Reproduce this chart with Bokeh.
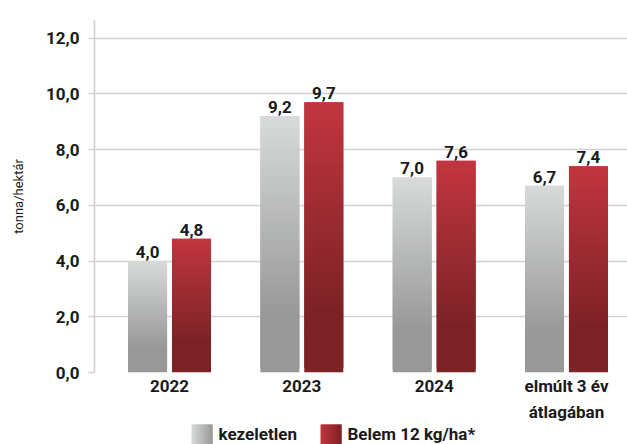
from bokeh.plotting import figure
from bokeh.layouts import column
from bokeh.models import ColumnDataSource, FixedTicker
from bokeh.embed import file_html
from bokeh.resources import INLINE
from bokeh.core.properties import value

# ---- data ----
categories = ["2022", "2023", "2024", "elmúlt 3 év\nátlagában"]
kezeletlen = [4.0, 9.2, 7.0, 6.7]
belem = [4.8, 9.7, 7.6, 7.4]
series_names = ["kezeletlen", "Belem 12 kg/ha*"]
y_ticks = [0, 2, 4, 6, 8, 10, 12]

FONT = "Roboto"
TXT = "#1a1a1a"
WEIGHT = "bold"

# gradient end colours (light, dark)
gray_top, gray_bot = (0xD8, 0xDA, 0xDA), (0x98, 0x98, 0x98)
red_top, red_bot = (0xC2, 0x35, 0x40), (0x7C, 0x22, 0x25)
N = 60


def lerp(c1, c2, t):
    return "#%02x%02x%02x" % tuple(int(round(a + (b - a) * t)) for a, b in zip(c1, c2))


def gradient_source(vals, offset, width, ctop, cbot, n=N):
    left, right, bottom, top, color = [], [], [], [], []
    for i, v in enumerate(vals):
        for k in range(n):
            b = v * k / n
            t = min(v, v * (k + 2) / n)
            frac_from_top = 1 - (k + 0.5) / n
            tt = min(frac_from_top / 0.78, 1.0)
            left.append(i + offset - width / 2)
            right.append(i + offset + width / 2)
            bottom.append(b)
            top.append(t)
            color.append(lerp(ctop, cbot, tt))
    return ColumnDataSource(dict(left=left, right=right, bottom=bottom, top=top, color=color))


W, H = 627, 444
LEFT = 94
p = figure(width=W, height=H, output_backend="svg", toolbar_location=None,
           x_range=(-0.567, 3.461), y_range=(0, 12.63),
           min_border_left=LEFT, min_border_right=0, min_border_top=20, min_border_bottom=72)
p.outline_line_color = None
p.background_fill_color = "white"

off = 0.166
bw = 0.295
src_g = gradient_source(kezeletlen, -off, bw, gray_top, gray_bot)
src_r = gradient_source(belem, off, bw, red_top, red_bot)
p.quad(left="left", right="right", bottom="bottom", top="top", source=src_g,
       fill_color="color", line_color=None)
p.quad(left="left", right="right", bottom="bottom", top="top", source=src_r,
       fill_color="color", line_color=None)

# value labels
lab = ColumnDataSource(dict(
    x=[i - off for i in range(len(kezeletlen))] + [i + off for i in range(len(belem))],
    y=kezeletlen + belem,
    t=[("%.1f" % v).replace(".", ",") for v in kezeletlen + belem],
))
p.text(x="x", y="y", text="t", source=lab, text_align="center", text_baseline="bottom",
       y_offset=-3, text_font=value(FONT), text_font_size="17px", text_font_style=WEIGHT,
       text_color=TXT)

# grid
p.xgrid.grid_line_color = None
p.ygrid.ticker = FixedTicker(ticks=y_ticks)
p.ygrid.grid_line_color = "#d0d0d0"
p.ygrid.grid_line_width = 1.6

# y axis
ya = p.yaxis[0]
ya.ticker = FixedTicker(ticks=y_ticks)
ya.major_label_overrides = {t: ("%.1f" % t).replace(".", ",") for t in y_ticks}
ya.axis_line_color = "#d0d0d0"
ya.axis_line_width = 1.6
ya.major_tick_line_color = "#d0d0d0"
ya.major_tick_line_width = 1.6
ya.major_tick_out = 6
ya.major_tick_in = 0
ya.minor_tick_line_color = None
ya.major_label_standoff = 9
ya.major_label_text_font = FONT
ya.major_label_text_font_size = "17px"
ya.major_label_text_font_style = WEIGHT
ya.major_label_text_color = TXT
ya.axis_label = "tonna/hektár"
ya.axis_label_text_font = FONT
ya.axis_label_text_font_size = "13px"
ya.axis_label_text_font_style = "normal"
ya.axis_label_text_color = TXT
ya.axis_label_standoff = 17

# x axis
xa = p.xaxis[0]
xa.ticker = FixedTicker(ticks=list(range(len(categories))))
xa.major_label_overrides = {i: c for i, c in enumerate(categories)}
xa.axis_line_color = None
xa.major_tick_line_color = None
xa.minor_tick_line_color = None
xa.major_label_standoff = -3
xa.major_label_text_font = FONT
xa.major_label_text_font_size = "17px"
xa.major_label_text_font_style = WEIGHT
xa.major_label_text_line_height = 1.3
xa.major_label_text_color = TXT

# ---- legend strip, overlaid on the bottom of the chart (page-pixel coordinates;
#      the column aligns its frame with the chart frame, which starts at LEFT) ----
LH = 24
lf = figure(width=W, height=LH, output_backend="svg", toolbar_location=None,
            x_range=(LEFT, W), y_range=(0, LH), min_border=0,
            x_axis_location=None, y_axis_location=None)
lf.margin = (-LH, 0, 0, 0)
lf.outline_line_color = None
lf.xgrid.grid_line_color = None
lf.ygrid.grid_line_color = None
lf.background_fill_alpha = 0
lf.border_fill_alpha = 0

sw_left = [191, 320]
sw_w = 21
sw_h = 20
ns = 24
ends = [(gray_top, gray_bot), (red_top, red_bot)]
sl, sr, sb, st, sc = [], [], [], [], []
for x0, (c1, c2) in zip(sw_left, ends):
    for k in range(ns):
        sl.append(x0 + sw_w * k / ns)
        sr.append(x0 + sw_w * min(k + 2, ns) / ns)
        sb.append(0)
        st.append(sw_h)
        sc.append(lerp(c1, c2, (k + 0.5) / ns))
lf.quad(left=sl, right=sr, bottom=sb, top=st, fill_color=sc, line_color=None)
lf.text(x=[x0 + sw_w + 6 for x0 in sw_left], y=[sw_h / 2 + 1] * 2, text=series_names,
        text_align="left", text_baseline="middle", text_font=value(FONT),
        text_font_size="17px", text_font_style=WEIGHT, text_color=TXT)

open("out.html", "w").write(file_html(column(p, lf), INLINE))
